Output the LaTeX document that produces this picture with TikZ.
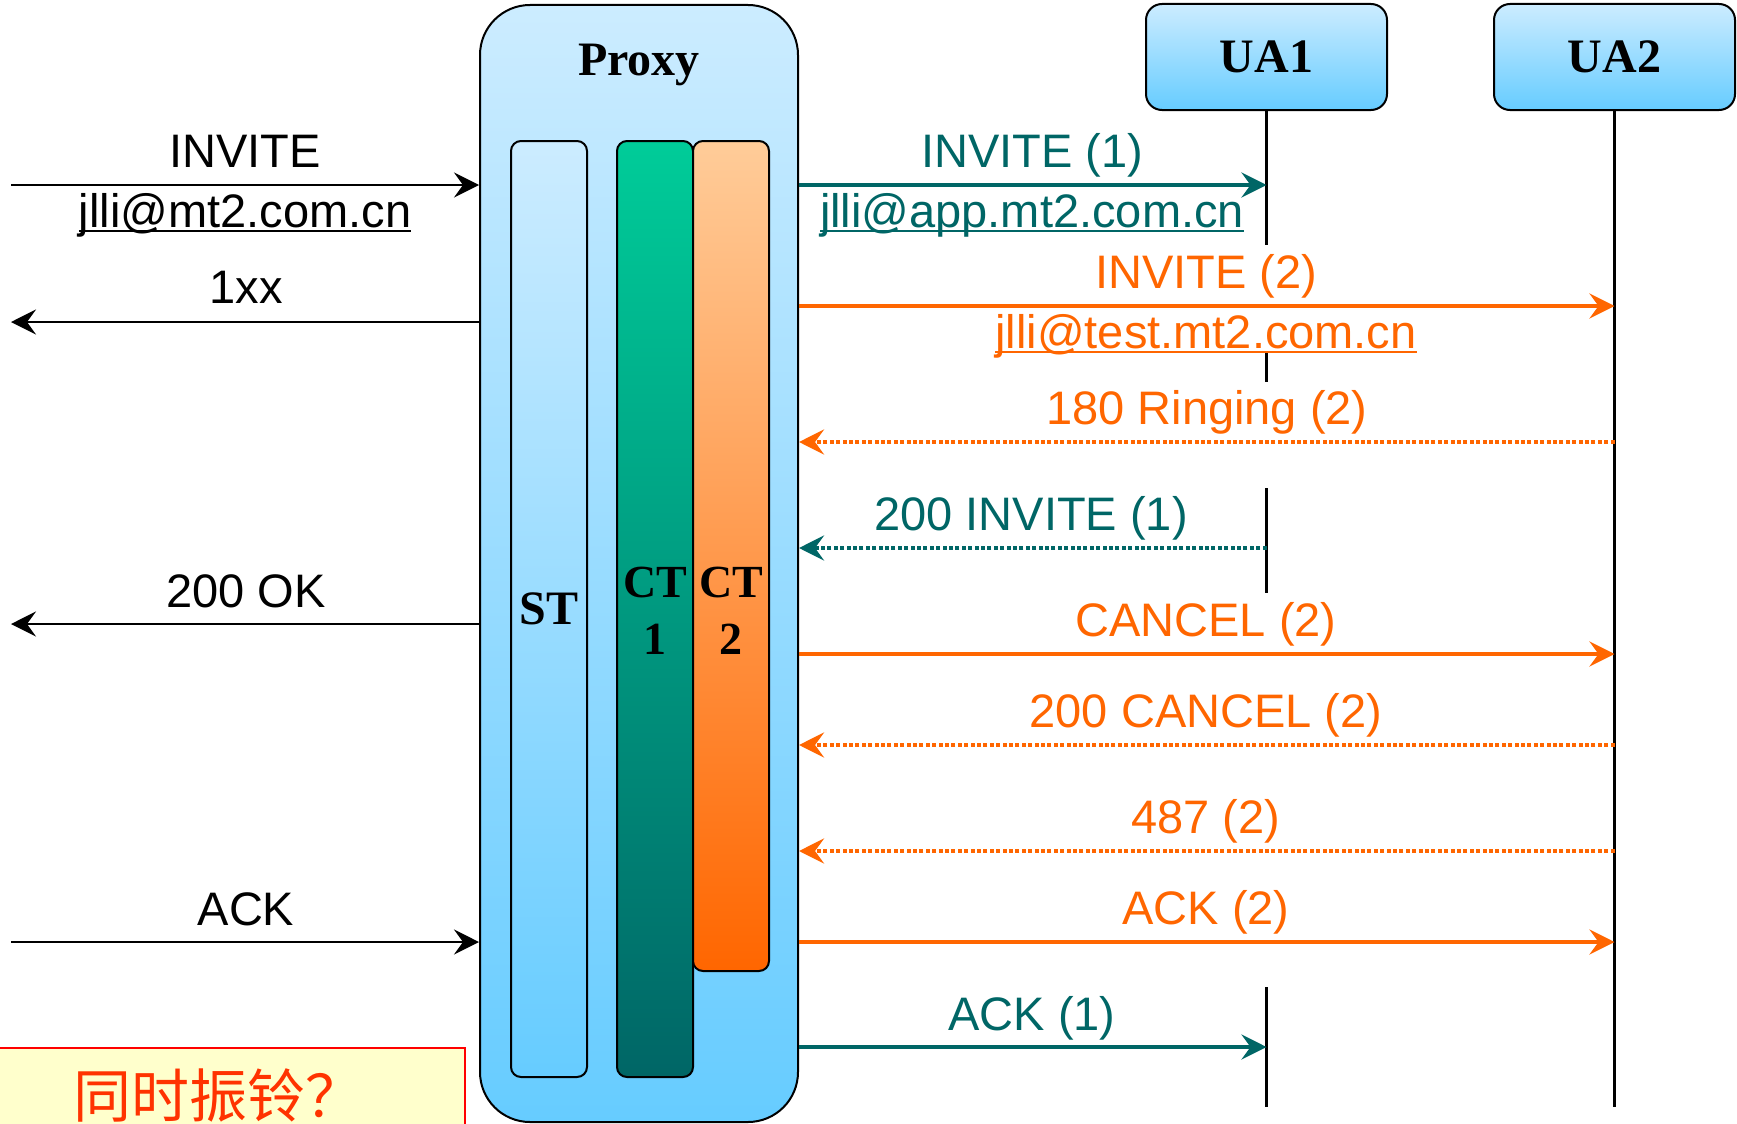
\documentclass[tikz,border=0pt]{standalone}
\usepackage{fontspec}
\setmainfont{Liberation Sans}
\newfontfamily\serifb{Liberation Serif}
\newfontfamily\cjk{Noto Sans CJK SC}
\usetikzlibrary{arrows.meta}
\definecolor{tealc}{HTML}{006666}
\definecolor{orgc}{HTML}{FF6600}
\definecolor{lbtop}{RGB}{204,236,255}
\definecolor{lbbot}{RGB}{102,204,255}
\definecolor{gtop}{HTML}{00CC99}
\definecolor{gbot}{HTML}{006666}
\definecolor{otop}{HTML}{FFCC99}
\definecolor{obot}{HTML}{FF6600}
\definecolor{ylw}{HTML}{FFFFCC}
\definecolor{cjkred}{HTML}{FF3300}
\newsavebox\ulbox
\newcommand\myul[1]{\sbox\ulbox{#1}\rlap{\rule[-4.5pt]{\wd\ulbox}{2pt}}\usebox\ulbox}
\tikzset{
  msg/.style={font=\fontsize{47}{56}\selectfont, anchor=base, inner sep=0pt},
  boxlbl/.style={font=\serifb\bfseries\fontsize{48}{56}\selectfont, inner sep=0pt},
  tip/.style={-{Stealth[length=25pt,width=25pt,inset=9pt]}},
  blkarrow/.style={tip, line width=2pt, black},
  solidc/.style={tip, line width=4pt},
  dotc/.style={tip, line width=4pt, dash pattern=on 4pt off 2.4pt},
  life/.style={line width=3pt, black},
  ubox/.style={draw, line width=2pt, rounded corners=16pt, top color=lbtop, bottom color=lbbot,
    minimum width=241pt, minimum height=106pt, inner sep=0pt, boxlbl},
  col/.style={draw, line width=2pt, rounded corners=10pt, minimum width=76pt, inner sep=0pt}
}
\begin{document}
\begin{tikzpicture}[x=1pt,y=-1pt]
\useasboundingbox (0,0) rectangle (1737,1124);
\clip (0,0) rectangle (1737,1124);
\fill[white] (0,0) rectangle (1737,1124);

% Proxy and transactions
\node[draw, line width=2pt, rounded corners=50pt, top color=lbtop, bottom color=lbbot,
  minimum width=318pt, minimum height=1117pt, inner sep=0pt] (proxy) at (639,563.5) {};
\node[boxlbl, anchor=base] (proxylbl) at (639,76) {Proxy};
\node[col, minimum height=936pt, top color=lbtop, bottom color=lbbot] (st) at (549,609) {};
\node[col, minimum height=936pt, top color=gtop, bottom color=gbot] (ct1) at (655,609) {};
\node[col, minimum height=830pt, top color=otop, bottom color=obot] (ct2) at (731,556) {};
\node[boxlbl] (stlbl) at (st.center) {ST};
\node[boxlbl, align=center, font=\serifb\bfseries\fontsize{46}{57}\selectfont] (ct1lbl) at (655,611) {CT\\1};
\node[boxlbl, align=center, font=\serifb\bfseries\fontsize{46}{57}\selectfont] (ct2lbl) at (731,611) {CT\\2};

% UAs
\node[ubox] (ua1) at (1266.5,57) {UA1};
\node[ubox] (ua2) at (1614.5,57) {UA2};
\coordinate (ua1a) at (1266.5,245);
\coordinate (ua1b) at (1266.5,352);
\coordinate (ua1c) at (1266.5,382);
\coordinate (ua1d) at (1266.5,488);
\coordinate (ua1e) at (1266.5,593);
\coordinate (ua1f) at (1266.5,987);
\coordinate (ua1g) at (1266.5,1107);
\coordinate (ua2end) at (1614.5,1107);
\draw[life] (ua1.south) -- (ua1a);
\draw[life] (ua1b) -- (ua1c);
\draw[life] (ua1d) -- (ua1e);
\draw[life] (ua1f) -- (ua1g);
\draw[life] (ua2.south) -- (ua2end);

% left side
\coordinate (l1) at (11,185);
\coordinate (l2) at (11,322);
\coordinate (l3) at (11,624);
\coordinate (l4) at (11,942);
\draw[blkarrow] (l1) -- (l1 -| proxy.west);
\draw[blkarrow] (l2 -| proxy.west) -- (l2);
\draw[blkarrow] (l3 -| proxy.west) -- (l3);
\draw[blkarrow] (l4) -- (l4 -| proxy.west);
\node[msg] (t1) at (245,167) {INVITE};
\node[msg] (t1b) at (245,227) {\myul{jlli@mt2.com.cn}};
\node[msg] (t2) at (246,303) {1xx};
\node[msg] (t3) at (246,607) {200 OK};
\node[msg] (t4) at (246,925) {ACK};

% right side
\coordinate (r1) at (0,185);
\coordinate (r2) at (0,306);
\coordinate (r3) at (0,442);
\coordinate (r4) at (0,548);
\coordinate (r5) at (0,654);
\coordinate (r6) at (0,745);
\coordinate (r7) at (0,851);
\coordinate (r8) at (0,942);
\coordinate (r9) at (0,1047);
\draw[solidc, tealc] (r1 -| proxy.east) -- (r1 -| ua1.south);
\draw[solidc, orgc] (r2 -| proxy.east) -- (r2 -| ua2.south);
\draw[dotc, orgc] (r3 -| ua2.south) -- (r3 -| proxy.east);
\draw[dotc, tealc] (r4 -| ua1.south) -- (r4 -| proxy.east);
\draw[solidc, orgc] (r5 -| proxy.east) -- (r5 -| ua2.south);
\draw[dotc, orgc] (r6 -| ua2.south) -- (r6 -| proxy.east);
\draw[dotc, orgc] (r7 -| ua2.south) -- (r7 -| proxy.east);
\draw[solidc, orgc] (r8 -| proxy.east) -- (r8 -| ua2.south);
\draw[solidc, tealc] (r9 -| proxy.east) -- (r9 -| ua1.south);

\node[msg, text=tealc] (m1) at (1032,167) {INVITE (1)};
\node[msg, text=tealc] (m1b) at (1032,227) {\myul{jlli@app.mt2.com.cn}};
\node[msg, text=orgc] (m2) at (1206,288) {INVITE (2)};
\node[msg, text=orgc] (m2b) at (1206,348) {\myul{jlli@test.mt2.com.cn}};
\node[msg, text=orgc] (m3) at (1207,424) {180 Ringing (2)};
\node[msg, text=tealc] (m4) at (1031,530) {200 INVITE (1)};
\node[msg, text=orgc] (m5) at (1206,636) {CANCEL (2)};
\node[msg, text=orgc] (m6) at (1206,727) {200 CANCEL (2)};
\node[msg, text=orgc] (m7) at (1206,833) {487 (2)};
\node[msg, text=orgc] (m8) at (1206,924) {ACK (2)};
\node[msg, text=tealc] (m9) at (1032,1030) {ACK (1)};

% note box
\draw[line width=2pt, draw=red, fill=ylw] (-3,1048) rectangle (465,1140);
\node[anchor=base, inner sep=0pt, text=cjkred, font=\cjk\fontsize{58}{60}\selectfont] (note) at (218,1117) {同时振铃？};
\end{tikzpicture}
\end{document}
